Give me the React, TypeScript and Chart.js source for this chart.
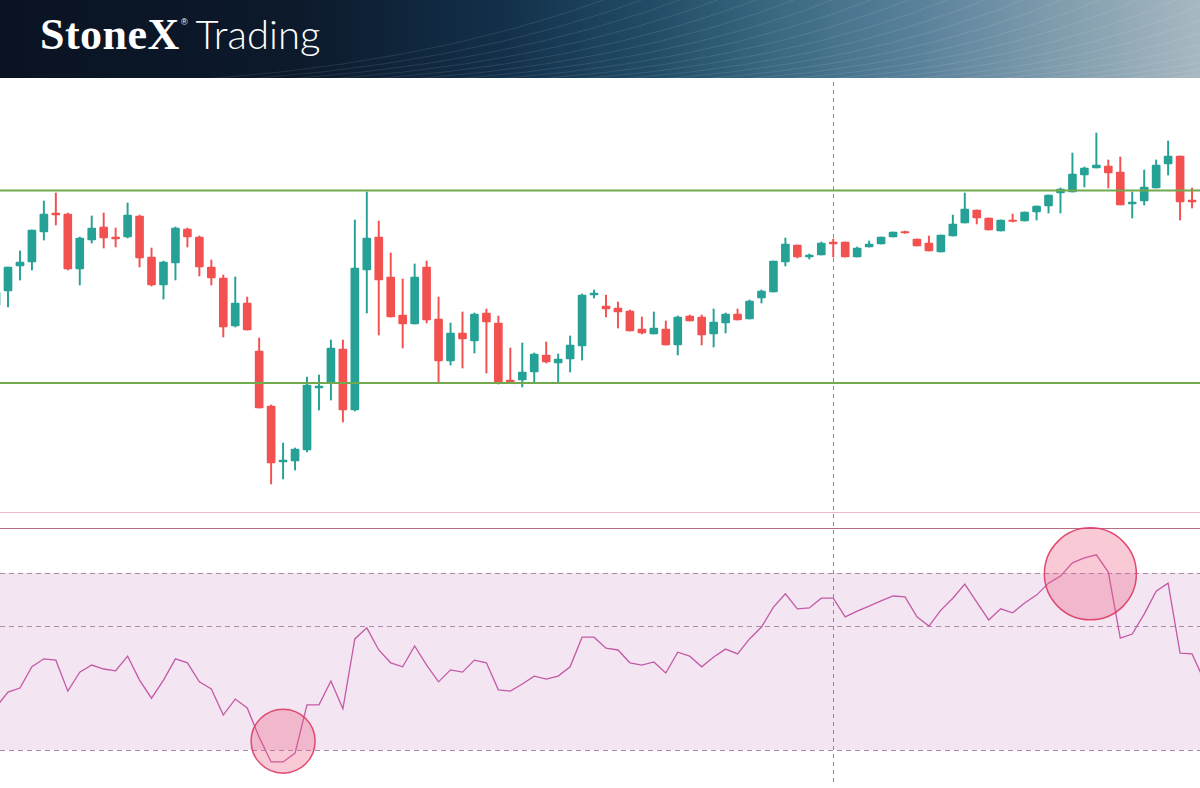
import React, { useEffect, useRef } from "react";
import { Chart, registerables } from "chart.js";

Chart.register(...registerables);

// ---- Data (candle index 0..100) ----
const OPEN = [
  69.5, 70.9, 73.4, 73.8, 76.8, 78.7, 78.6, 73.1, 76.0, 77.3,
  76.3, 76.3, 78.4, 74.3, 71.5, 73.7, 77.1, 76.3, 73.3, 72.2,
  67.4, 69.7, 64.9, 59.4, 53.8, 53.9, 55.0, 61.2, 61.7, 65.1,
  59.0, 73.0, 76.3, 72.3, 68.5, 67.6, 73.3, 68.1, 63.9, 66.7,
  65.9, 68.7, 67.7, 62.0, 62.0, 62.8, 64.5, 63.7, 64.1, 65.4,
  70.5, 69.4, 69.2, 68.9, 67.1, 66.6, 67.1, 65.5, 68.4, 68.3,
  66.6, 67.7, 68.6, 68.1, 70.2, 70.8, 73.8, 75.5, 74.3, 74.5,
  75.8, 75.8, 74.3, 75.3, 75.6, 76.3, 76.85, 76.1, 75.7, 74.8,
  76.4, 77.7, 79.0, 78.2, 76.9, 78.0, 77.9, 78.8, 79.4, 80.7,
  80.8, 82.5, 83.2, 83.4, 82.8, 79.6, 79.9, 81.2, 83.6, 84.4,
  80.0,
];
const HIGH = [
  71.0, 73.3, 74.9, 77.0, 79.9, 80.7, 78.7, 76.3, 78.4, 78.7,
  77.2, 79.7, 78.5, 75.2, 73.9, 77.3, 77.2, 76.4, 74.0, 72.5,
  72.3, 70.3, 66.2, 59.5, 55.7, 55.2, 62.3, 62.5, 66.0, 66.0,
  78.0, 80.8, 77.9, 74.7, 72.1, 73.6, 73.9, 70.3, 67.7, 68.8,
  68.7, 69.1, 68.4, 65.2, 65.7, 64.7, 65.8, 64.6, 66.4, 70.6,
  71.0, 70.5, 69.8, 69.0, 68.3, 68.8, 67.9, 68.4, 68.5, 68.5,
  69.1, 68.7, 69.1, 70.0, 71.0, 73.9, 76.2, 75.5, 74.6, 75.8,
  76.1, 75.8, 75.3, 75.9, 76.3, 76.8, 76.9, 76.1, 76.4, 76.5,
  78.5, 80.7, 79.0, 78.2, 78.0, 78.6, 78.8, 79.4, 80.5, 81.2,
  84.7, 83.3, 86.7, 84.0, 84.3, 80.8, 83.0, 84.0, 85.9, 84.4,
  81.2,
];
const LOW = [
  69.0, 69.3, 72.0, 73.0, 76.0, 77.5, 73.0, 71.5, 75.7, 75.2,
  75.3, 76.2, 73.3, 71.4, 70.1, 72.0, 75.3, 72.4, 71.5, 66.3,
  67.3, 67.0, 59.2, 51.6, 52.1, 53.0, 54.8, 59.0, 60.0, 57.8,
  58.9, 68.7, 66.5, 68.3, 65.2, 67.6, 67.7, 61.8, 63.5, 63.2,
  64.7, 62.7, 61.6, 61.7, 61.3, 61.8, 63.7, 61.8, 62.8, 64.0,
  70.2, 68.3, 67.2, 66.9, 66.6, 66.6, 65.5, 64.5, 67.9, 65.5,
  65.3, 66.7, 68.0, 68.1, 69.7, 70.8, 73.4, 74.2, 74.1, 74.5,
  74.3, 74.3, 74.3, 75.3, 75.6, 76.3, 76.65, 75.4, 74.9, 74.8,
  76.4, 77.7, 77.6, 77.0, 76.9, 77.8, 77.9, 78.0, 78.7, 78.7,
  80.8, 81.3, 83.2, 81.2, 79.5, 78.2, 79.5, 81.2, 82.5, 78.0,
  79.2,
];
const CLOSE = [
  70.8, 73.3, 73.8, 77.0, 78.6, 78.5, 73.1, 76.2, 77.2, 76.2,
  76.1, 78.5, 74.2, 71.5, 73.8, 77.2, 76.3, 73.3, 72.2, 67.3,
  69.7, 67.0, 59.2, 53.7, 54.0, 55.1, 61.5, 61.4, 65.2, 59.0,
  73.2, 76.2, 72.0, 68.3, 67.6, 72.3, 68.0, 63.9, 66.7, 66.1,
  68.6, 67.8, 61.8, 61.8, 62.8, 64.6, 63.8, 64.1, 65.5, 70.5,
  70.7, 69.1, 68.8, 66.9, 66.7, 67.2, 65.5, 68.3, 67.9, 66.5,
  67.8, 68.6, 68.0, 69.9, 70.9, 73.9, 75.6, 74.3, 74.5, 75.7,
  75.6, 74.3, 75.2, 75.6, 76.3, 76.8, 76.7, 75.4, 74.9, 76.5,
  77.6, 79.1, 78.2, 77.0, 78.0, 77.85, 78.8, 79.4, 80.5, 81.1,
  82.6, 83.2, 83.5, 82.7, 79.5, 79.8, 81.3, 83.5, 84.4, 79.8,
  79.8,
];
// RSI (index 0..101)
const RSI = [
  39.7, 43.1, 44.0, 48.8, 50.6, 50.3, 43.3, 47.6, 49.2, 48.3,
  47.9, 51.2, 45.8, 41.7, 45.8, 50.6, 49.7, 45.4, 43.8, 37.9,
  41.5, 39.5, 32.9, 27.3, 27.3, 29.3, 40.2, 40.2, 45.6, 39.3,
  55.1, 57.6, 52.6, 49.7, 48.8, 53.5, 49.2, 45.4, 48.1, 47.6,
  50.3, 49.7, 43.6, 43.3, 44.9, 46.7, 46.0, 46.7, 48.8, 55.5,
  55.5, 53.0, 52.6, 49.7, 49.2, 49.9, 47.4, 52.1, 51.2, 48.8,
  51.0, 52.8, 51.7, 55.1, 57.8, 62.3, 65.3, 61.9, 62.1, 64.3,
  64.3, 60.1, 61.4, 62.5, 63.7, 64.8, 64.6, 60.1, 58.0, 61.6,
  64.3, 67.5, 63.4, 59.4, 61.9, 61.0, 63.2, 65.0, 67.7, 69.3,
  72.3, 73.4, 74.1, 70.2, 55.3, 56.2, 60.7, 65.9, 67.7, 51.9,
  51.7, 45.8,
];

const SUPPORT_RESISTANCE = [61.7, 80.95];
const PANEL_LINES = [48.8, 47.2];
const RSI_LEVELS = [70, 58, 30];
const CROSSHAIR_INDEX = 70;
const HIGHLIGHT_INDEX = [24, 91.5];
const HIGHLIGHT_RSI = [32.0, 69.8];

const VIEW_X = [0.331, 100.666];
const VIEW_PRICE = [21.2, 92.2];
const VIEW_RSI = [21.41, 181.86];

const TEAL = "#26a195";
const RED = "#f2514f";

const overlayPlugin = {
  id: "overlay",
  beforeDatasetsDraw(chart: any) {
    const { ctx, chartArea: a, scales } = chart;
    const yR = scales.yRsi;
    const y = scales.y;
    const x = scales.x;
    ctx.save();
    const top = yR.getPixelForValue(RSI_LEVELS[0]);
    const bot = yR.getPixelForValue(RSI_LEVELS[2]);
    ctx.fillStyle = "#f3e5f1";
    ctx.fillRect(a.left, top, a.right - a.left, bot - top);

    ctx.lineWidth = 1;
    ctx.setLineDash([5, 4]);
    ctx.strokeStyle = "#a98ba9";
    RSI_LEVELS.forEach((v) => {
      const py = Math.round(yR.getPixelForValue(v)) + 0.5;
      ctx.beginPath();
      ctx.moveTo(a.left, py);
      ctx.lineTo(a.right, py);
      ctx.stroke();
    });

    ctx.setLineDash([]);
    const panelColors = ["#f3b9c5", "#b86c80"];
    PANEL_LINES.forEach((v, k) => {
      const py = Math.round(y.getPixelForValue(v)) + 0.5;
      ctx.strokeStyle = panelColors[k];
      ctx.beginPath();
      ctx.moveTo(a.left, py);
      ctx.lineTo(a.right, py);
      ctx.stroke();
    });

    ctx.setLineDash([4, 4]);
    ctx.strokeStyle = "#8c8c8c";
    const px = Math.round(x.getPixelForValue(CROSSHAIR_INDEX)) + 0.5;
    ctx.beginPath();
    ctx.moveTo(px, a.top + 4);
    ctx.lineTo(px, a.bottom - 6);
    ctx.stroke();
    ctx.restore();
  },
  afterDatasetsDraw(chart: any) {
    const { ctx, chartArea: a, scales } = chart;
    ctx.save();
    ctx.strokeStyle = "#72a84e";
    ctx.lineWidth = 2;
    SUPPORT_RESISTANCE.forEach((v) => {
      const py = scales.y.getPixelForValue(v);
      ctx.beginPath();
      ctx.moveTo(a.left, py);
      ctx.lineTo(a.right, py);
      ctx.stroke();
    });
    ctx.restore();
  },
};

function CandleChart() {
  const ref = useRef<HTMLCanvasElement | null>(null);
  useEffect(() => {
    if (!ref.current) return;
    const colors = OPEN.map((o, i) => (CLOSE[i] >= o ? TEAL : RED));
    const chart = new Chart(ref.current, {
      type: "bar",
      data: {
        datasets: [
          {
            type: "scatter",
            data: HIGHLIGHT_INDEX.map((xv, k) => ({ x: xv, y: HIGHLIGHT_RSI[k] })),
            yAxisID: "yRsi",
            pointRadius: [32, 46],
            backgroundColor: "rgba(236, 92, 132, 0.33)",
            borderColor: "rgba(222, 58, 100, 0.9)",
            borderWidth: 1.5,
            order: 0,
          } as any,
          {
            type: "line",
            data: RSI.map((v, i) => ({ x: i, y: v })),
            yAxisID: "yRsi",
            borderColor: "#c45aa6",
            borderWidth: 1.3,
            pointRadius: 0,
            tension: 0,
            order: 1,
          } as any,
          {
            type: "bar",
            data: OPEN.map((o, i) => ({ x: i, y: [o, CLOSE[i]] })),
            backgroundColor: colors,
            borderWidth: 0,
            borderRadius: 1,
            borderSkipped: false,
            barThickness: 8,
            grouped: false,
            yAxisID: "y",
            order: 2,
          } as any,
          {
            type: "bar",
            data: LOW.map((l, i) => ({ x: i, y: [l, HIGH[i]] })),
            backgroundColor: colors,
            borderWidth: 0,
            barThickness: 1.3,
            grouped: false,
            yAxisID: "y",
            order: 3,
          } as any,
        ],
      },
      options: {
        animation: false,
        responsive: false,
        events: [],
        layout: { padding: 0, autoPadding: false },
        plugins: { legend: { display: false }, tooltip: { enabled: false } },
        scales: {
          x: { type: "linear", min: VIEW_X[0], max: VIEW_X[1], offset: false, display: false, grid: { offset: false } },
          y: { type: "linear", min: VIEW_PRICE[0], max: VIEW_PRICE[1], display: false },
          yRsi: { type: "linear", min: VIEW_RSI[0], max: VIEW_RSI[1], display: false },
        },
      } as any,
      plugins: [overlayPlugin],
    });
    return () => chart.destroy();
  }, []);
  return (
    <canvas
      ref={ref}
      width={1200}
      height={710}
      style={{ position: "absolute", left: 0, top: 78, display: "block" }}
    />
  );
}

function Header() {
  const waves = Array.from({ length: 26 }, (_, k) => k);
  return (
    <div
      style={{
        position: "absolute",
        left: 0,
        top: 0,
        width: 1200,
        height: 78,
        overflow: "hidden",
        background:
          "linear-gradient(90deg, #0a1322 0%, #0c1a2c 25%, #13304a 42%, #234e68 55%, #3b6a82 65%, #58809a 76%, #7f9cad 88%, #a7b8c1 100%)",
      }}
    >
      <svg width={1200} height={78} style={{ position: "absolute", left: 0, top: 0 }}>
        {waves.map((k) => (
          <path
            key={k}
            d={`M ${150 + k * 42} 82 Q ${420 + k * 40} 70 ${620 + k * 38} -6`}
            fill="none"
            stroke="rgba(255,255,255,0.10)"
            strokeWidth={1}
          />
        ))}
      </svg>
      <div
        style={{
          position: "absolute",
          left: 40,
          top: 12,
          display: "flex",
          alignItems: "baseline",
          color: "#ffffff",
          whiteSpace: "nowrap",
          lineHeight: "44px",
        }}
      >
        <span style={{ fontFamily: "'Liberation Serif', serif", fontWeight: 700, fontSize: 44, letterSpacing: 0.5 }}>
          StoneX
        </span>
        <span
          style={{
            fontFamily: "'Liberation Sans', sans-serif",
            fontSize: 9,
            position: "relative",
            top: -24,
            marginLeft: 1,
            marginRight: 8,
          }}
        >
          ®
        </span>
        <span style={{ fontFamily: "Lato, 'Open Sans', sans-serif", fontWeight: 300, fontSize: 40 }}>Trading</span>
      </div>
    </div>
  );
}

export default function App() {
  return (
    <div
      style={{
        position: "absolute",
        left: 0,
        top: 0,
        width: 1200,
        height: 788,
        background: "#ffffff",
        overflow: "hidden",
      }}
    >
      <Header />
      <CandleChart />
    </div>
  );
}
